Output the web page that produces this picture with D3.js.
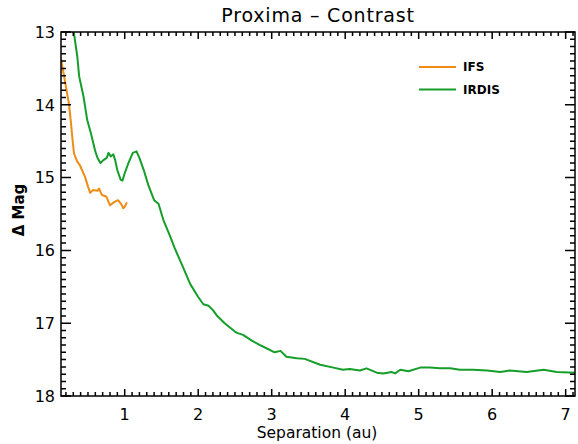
<!DOCTYPE html>
<html>
<head>
<meta charset="utf-8">
<script src="https://cdn.jsdelivr.net/npm/d3@7"></script>
<style>
  body { margin: 0; background: #fff; }
  text { font-family: "DejaVu Sans", sans-serif; fill: #000; }
</style>
</head>
<body>
<div id="plot"></div>
<script>
// chart data
const ifsSep = [0.133, 0.165, 0.20, 0.24, 0.265, 0.29, 0.31, 0.355, 0.39, 0.46, 0.50, 0.53, 0.57, 0.63, 0.65, 0.69, 0.75, 0.80, 0.85, 0.91, 0.95, 0.98, 1.00, 1.03];
const ifsMag = [13.37, 13.55, 13.75, 13.98, 14.21, 14.48, 14.67, 14.78, 14.83, 14.99, 15.12, 15.21, 15.17, 15.18, 15.15, 15.24, 15.26, 15.38, 15.34, 15.31, 15.36, 15.42, 15.40, 15.34];

const irdisSep = [0.30, 0.355, 0.38, 0.44, 0.49, 0.54, 0.60, 0.63, 0.67, 0.71, 0.755, 0.78, 0.81, 0.845, 0.87, 0.90, 0.945, 0.97, 1.00, 1.05, 1.11, 1.16, 1.20, 1.26, 1.32, 1.40, 1.46, 1.525, 1.62, 1.68, 1.78, 1.89, 2.00, 2.07, 2.14, 2.20, 2.25, 2.36, 2.52, 2.61, 2.73, 2.86, 3.04, 3.12, 3.20, 3.34, 3.45, 3.66, 3.84, 3.97, 4.06, 4.20, 4.29, 4.43, 4.52, 4.63, 4.68, 4.75, 4.86, 5.02, 5.15, 5.29, 5.43, 5.56, 5.74, 5.93, 6.11, 6.24, 6.47, 6.70, 6.88, 7.13];
const irdisMag = [12.95, 13.34, 13.61, 13.89, 14.21, 14.39, 14.64, 14.73, 14.80, 14.76, 14.73, 14.66, 14.71, 14.68, 14.76, 14.90, 15.03, 15.04, 14.94, 14.80, 14.66, 14.64, 14.73, 14.90, 15.10, 15.31, 15.36, 15.58, 15.81, 15.97, 16.20, 16.46, 16.64, 16.74, 16.76, 16.82, 16.89, 17.00, 17.13, 17.16, 17.24, 17.31, 17.40, 17.38, 17.46, 17.48, 17.49, 17.57, 17.61, 17.64, 17.63, 17.65, 17.62, 17.68, 17.69, 17.67, 17.69, 17.64, 17.66, 17.61, 17.61, 17.62, 17.62, 17.64, 17.64, 17.65, 17.67, 17.65, 17.67, 17.64, 17.67, 17.68];

const xTicks = [1, 2, 3, 4, 5, 6, 7];
const yTicks = [13, 14, 15, 16, 17, 18];
const seriesNames = ["IFS", "IRDIS"];
const seriesColors = ["#ef8c14", "#169e2a"];

const width = 578, height = 444;
const plotL = 61, plotR = 575, plotT = 32, plotB = 396;

const svg = d3.select("#plot").append("svg")
    .attr("width", width)
    .attr("height", height);

const x = d3.scaleLinear().domain([0.133, 7.127]).range([plotL, plotR]);
const y = d3.scaleLinear().domain([13, 18]).range([plotT, plotB]);

// minor ticks every 0.1 on both axes
const xMinor = d3.range(2, 72).filter(d => d % 10 !== 0).map(d => d / 10);
const yMinor = d3.range(131, 180).filter(d => d % 10 !== 0).map(d => d / 10);

svg.append("clipPath").attr("id", "clip")
  .append("rect")
    .attr("x", plotL).attr("y", plotT)
    .attr("width", plotR - plotL).attr("height", plotB - plotT);

// lines
const line = d3.line().x(d => x(d[0])).y(d => y(d[1]));
const series = [
  d3.zip(ifsSep, ifsMag),
  d3.zip(irdisSep, irdisMag)
];
svg.append("g").attr("clip-path", "url(#clip)")
  .selectAll("path")
  .data(series)
  .enter().append("path")
    .attr("d", line)
    .attr("fill", "none")
    .attr("stroke", (d, i) => seriesColors[i])
    .attr("stroke-width", 2)
    .attr("stroke-linejoin", "round");

// ticks on all four sides, pointing inward
const xTickData = xTicks.map(v => [v, 7]).concat(xMinor.map(v => [v, 4]));
const yTickData = yTicks.map(v => [v, 10]).concat(yMinor.map(v => [v, 5]));

const tickPath = d3.path();
xTickData.forEach(d => {
  const px = x(d[0]);
  tickPath.moveTo(px, plotB); tickPath.lineTo(px, plotB - d[1]);
  tickPath.moveTo(px, plotT); tickPath.lineTo(px, plotT + d[1]);
});
yTickData.forEach(d => {
  const py = y(d[0]);
  tickPath.moveTo(plotL, py); tickPath.lineTo(plotL + d[1], py);
  tickPath.moveTo(plotR, py); tickPath.lineTo(plotR - d[1], py);
});
svg.append("path")
    .attr("d", tickPath.toString())
    .attr("fill", "none")
    .attr("stroke", "#000")
    .attr("stroke-width", 1.5);

// tick labels
svg.append("g").selectAll("text")
  .data(xTicks)
  .enter().append("text")
    .attr("x", d => x(d))
    .attr("y", 420)
    .attr("text-anchor", "middle")
    .style("font-size", "16px")
    .text(d => d);
svg.append("g").selectAll("text")
  .data(yTicks)
  .enter().append("text")
    .attr("x", 55)
    .attr("y", d => y(d))
    .attr("dy", "0.36em")
    .attr("text-anchor", "end")
    .style("font-size", "16px")
    .text(d => d);

// frame
svg.append("rect")
    .attr("x", plotL).attr("y", plotT)
    .attr("width", plotR - plotL).attr("height", plotB - plotT)
    .attr("fill", "none")
    .attr("stroke", "#000")
    .attr("stroke-width", 1.5);

// title and axis labels
svg.append("text")
    .attr("x", (plotL + plotR) / 2)
    .attr("y", 22)
    .attr("text-anchor", "middle")
    .style("font-size", "19px")
    .style("letter-spacing", "0.8px")
    .text("Proxima \u2013 Contrast");

svg.append("text")
    .attr("x", 317)
    .attr("y", 438)
    .attr("text-anchor", "middle")
    .style("font-size", "15.5px")
    .text("Separation (au)");

svg.append("text")
    .attr("transform", "translate(24,210) rotate(-90)")
    .attr("text-anchor", "middle")
    .style("font-size", "15px")
    .style("font-weight", "bold")
    .text("\u0394 Mag");

// legend
const legend = svg.append("g").attr("transform", "translate(419,67)");
const items = legend.selectAll("g")
  .data(seriesNames)
  .enter().append("g")
    .attr("transform", (d, i) => `translate(0,${i * 22.5})`);
items.append("line")
    .attr("x1", 0).attr("x2", 37)
    .attr("stroke", (d, i) => seriesColors[i])
    .attr("stroke-width", 2);
items.append("text")
    .attr("x", 44)
    .attr("dy", "0.35em")
    .style("font-size", "12px")
    .style("font-weight", "bold")
    .text(d => d);
</script>
</body>
</html>
